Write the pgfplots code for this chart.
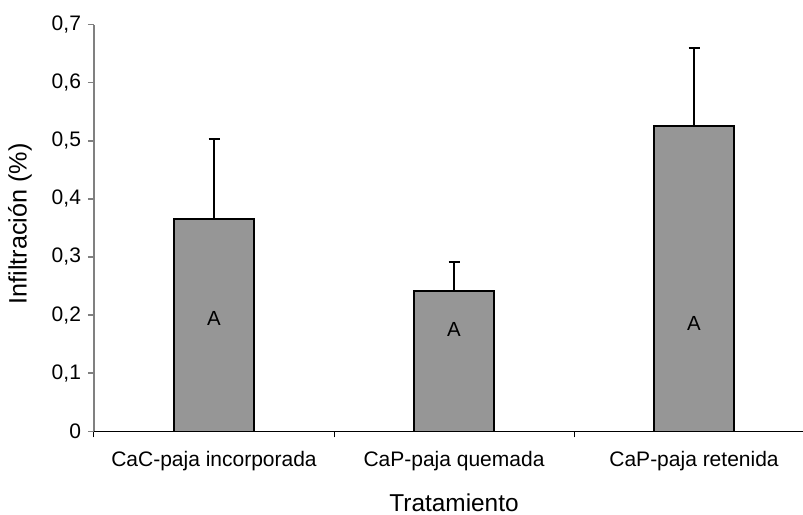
\documentclass[border=0pt]{standalone}
\usepackage{fontspec}
\setmainfont{Liberation Sans}
\usepackage{pgfplots}
\pgfplotsset{compat=1.18}
\definecolor{barfill}{RGB}{150,150,150}
\definecolor{axgray}{RGB}{128,128,128}
\begin{document}
\begin{tikzpicture}
\begin{axis}[
  name=ax,
  scale only axis,
  width=354.5pt, height=203.35pt,
  xmin=-0.5, xmax=2.454,
  ymin=0, ymax=0.7,
  axis x line*=bottom, axis y line*=left,
  x axis line style={-, black, line width=0.5pt},
  y axis line style={-, axgray, line width=0.75pt},
  ytick={0,0.1,0.2,0.3,0.4,0.5,0.6,0.7},
  yticklabel style={/pgf/number format/.cd, use comma, fixed, precision=1, assume math mode=true},
  ytick style={axgray, line width=0.75pt},
  xtick={-0.5,0.5,1.5},
  xticklabels={},
  xtick style={black, line width=0.5pt},
  extra x ticks={0,1,2},
  extra x tick labels={CaC-paja incorporada, CaP-paja quemada, CaP-paja retenida},
  extra x tick style={major tick length=0pt, xticklabel style={yshift=-6.5pt}},
  tick align=outside,
  major tick length=3pt,
  ticklabel style={font=\fontsize{10.5}{12.5}\selectfont},
  xlabel={Tratamiento},
  ylabel={Infiltración (\%)},
  xlabel style={font=\fontsize{12.2}{14}\selectfont, at={(axis description cs:0.5078,0)}, anchor=base, yshift=-40.3pt},
  ylabel style={font=\fontsize{12.6}{15}\selectfont, at={(axis description cs:0,0.5)}, anchor=center, xshift=2pt, yshift=37pt},
  ybar,
  bar width=40pt,
]
\addplot[ybar, fill=barfill, draw=black, line width=0.75pt,
  error bars/.cd, y dir=plus, y explicit,
  error bar style={line width=0.7pt, black},
  error mark options={rotate=90, mark size=2.75pt, line width=0.7pt, black}]
  coordinates {
    (0,0.365) +- (0,0.138)
    (1,0.2415) +- (0,0.050)
    (2,0.5255) +- (0,0.134)
  };
\node[font=\fontsize{10.2}{12}\selectfont] at (axis cs:0,0.195) {A};
\node[font=\fontsize{10.2}{12}\selectfont] at (axis cs:1,0.176) {A};
\node[font=\fontsize{10.2}{12}\selectfont] at (axis cs:2,0.186) {A};
\end{axis}
\path (ax.south west) ++(-47pt,-41.35pt) coordinate (bbsw);
\path (ax.north east) ++(0pt,12.3pt) coordinate (bbne);
\pgfresetboundingbox
\useasboundingbox (bbsw) rectangle (bbne);
\end{tikzpicture}
\end{document}
